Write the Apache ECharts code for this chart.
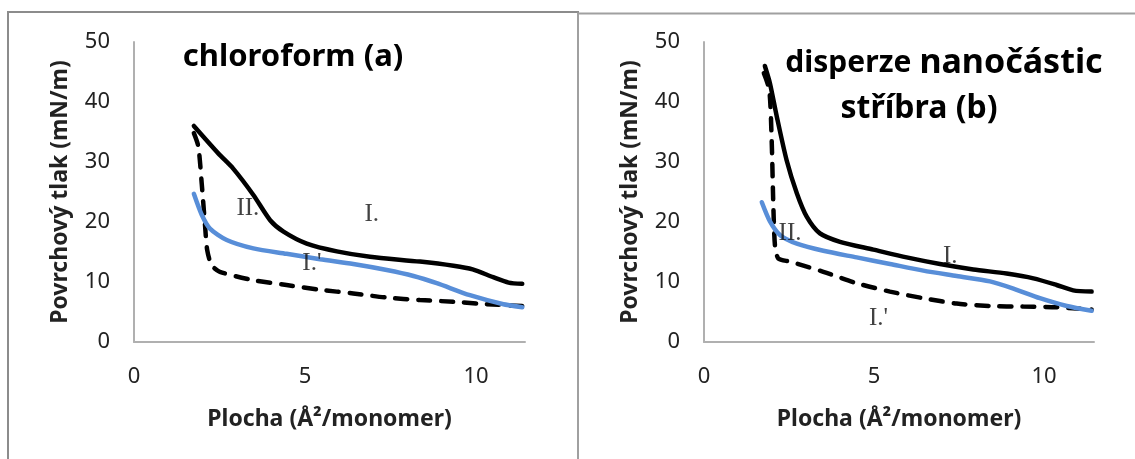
<!DOCTYPE html>
<html>
<head>
<meta charset="utf-8">
<script src="https://cdn.jsdelivr.net/npm/echarts@6/dist/echarts.min.js"></script>
<style>
html,body{margin:0;padding:0;background:#fff;}
#c{width:1135px;height:459px;}
</style>
</head>
<body>
<div id="c"></div>
<script>
// ---- data (x = Plocha, y = Povrchový tlak) ----
var xTicks = [0, 5, 10];
var yTicks = [0, 10, 20, 30, 40, 50];

var titleA = 'chloroform (a)';
var titleB1a = 'disperze';
var titleB1b = 'nanočástic';
var titleB2 = 'stříbra (b)';
var xName = 'Plocha (Å²/monomer)';
var yName = 'Povrchový tlak (mN/m)';

// panel (a) chloroform
var aSolid = [[1.75,36.0],[2.47,31.4],[2.9,28.9],[3.49,24.5],[3.98,20.3],[4.37,18.4],[5.05,16.4],[5.93,15.1],[6.9,14.2],[8.36,13.4],[9.34,12.7],[9.9,12.1],[10.5,10.8],[10.95,9.9],[11.35,9.7]];
var aBlue = [[1.75,24.7],[1.98,21.2],[2.22,18.9],[2.71,17.0],[3.49,15.6],[4.46,14.7],[5.44,13.8],[6.41,13.0],[7.39,12.0],[8.17,11.0],[8.85,9.8],[9.82,7.8],[10.8,6.3],[11.35,5.8]];
var aDashed = [[1.75,34.8],[1.88,32.6],[1.98,26.4],[2.08,19.2],[2.14,15.3],[2.27,12.8],[2.51,11.7],[3.49,10.3],[4.46,9.5],[5.44,8.7],[6.41,8.1],[7.39,7.4],[8.36,7.0],[9.34,6.7],[10.31,6.3],[11.35,6.0]];
var aLabels = [[3.33,22.3,'II.'],[6.95,21.2,'I.'],[5.2,13.1,"I.'"]];

// panel (b) disperze nanočástic stříbra
var bSolid = [[1.79,46.0],[1.94,43.1],[2.14,37.6],[2.43,30.3],[2.73,24.8],[3.02,20.9],[3.41,18.1],[4.0,16.7],[4.98,15.4],[5.96,14.1],[6.94,13.0],[7.92,12.1],[8.9,11.4],[9.69,10.6],[10.37,9.5],[10.86,8.6],[11.4,8.4]];
var bBlue = [[1.7,23.3],[1.94,20.1],[2.24,17.8],[2.73,16.4],[3.51,15.2],[4.49,14.1],[5.47,13.0],[6.45,11.9],[7.43,11.0],[8.41,10.1],[9.1,8.9],[9.88,7.3],[10.67,6.0],[11.4,5.2]];
var bDashed = [[1.76,44.8],[1.92,42.0],[1.99,33.7],[2.04,22.6],[2.09,15.9],[2.19,13.9],[2.53,13.4],[3.51,11.7],[4.49,9.8],[5.47,8.4],[6.45,7.3],[7.43,6.4],[8.41,6.0],[9.39,5.9],[10.37,5.8],[11.4,5.4]];
var bLabels = [[2.53,18.1,'II.'],[7.24,14.2,'I.'],[5.13,3.9,"I.'"]];

// ---- chart ----
var SANS = 'Noto Sans';
var SERIF = 'Liberation Serif';
var TXT = '#222';
var AXC = '#b0b0b0';

function xAxis(gi, max) {
  return {
    type: 'value', gridIndex: gi, min: 0, max: max, interval: 5,
    axisLine: {show: true, onZero: false, lineStyle: {color: AXC, width: 2}},
    axisTick: {show: false}, splitLine: {show: false},
    axisLabel: {
      color: TXT, fontFamily: SANS, fontSize: 22, margin: 24,
      showMaxLabel: false,
      formatter: function (v) { return xTicks.indexOf(v) >= 0 ? String(v) : ''; }
    },
    name: xName, nameLocation: 'middle', nameGap: 66,
    nameTextStyle: {color: TXT, fontFamily: SANS, fontSize: 23, fontWeight: 'bold'}
  };
}
function yAxis(gi) {
  return {
    type: 'value', gridIndex: gi, min: 0, max: 50, interval: 10,
    axisLine: {show: true, lineStyle: {color: AXC, width: 2}},
    axisTick: {show: false}, splitLine: {show: false},
    axisLabel: {
      color: TXT, fontFamily: SANS, fontSize: 22, margin: 24,
      formatter: function (v) { return yTicks.indexOf(v) >= 0 ? String(v) : ''; }
    },
    name: yName, nameLocation: 'middle', nameGap: 62,
    nameTextStyle: {color: TXT, fontFamily: SANS, fontSize: 23, fontWeight: 'bold'}
  };
}
function lineSeries(gi, data, color, dashed) {
  return {
    type: 'line', xAxisIndex: gi, yAxisIndex: gi, data: data,
    showSymbol: false, smooth: 0.25, silent: true,
    lineStyle: dashed
      ? {color: color, width: 4.5, type: [12, 11], cap: 'round'}
      : {color: color, width: 4.5, cap: 'round'}
  };
}
function labelSeries(gi, labels) {
  return {
    type: 'scatter', xAxisIndex: gi, yAxisIndex: gi, symbolSize: 0, silent: true, z: 5,
    data: labels.map(function (l) { return {value: [l[0], l[1]], name: l[2]}; }),
    label: {show: true, position: 'inside', formatter: '{b}', color: '#111',
      fontFamily: SERIF, fontSize: 25}
  };
}

var chart = echarts.init(document.getElementById('c'));
chart.setOption({
  animation: false,
  backgroundColor: '#fff',
  grid: [
    {left: 134, top: 42, width: 391, height: 300},
    {left: 704, top: 42, width: 390, height: 300}
  ],
  xAxis: [xAxis(0, 11.43), xAxis(1, 11.47)],
  yAxis: [yAxis(0), yAxis(1)],
  graphic: [
    {type: 'rect', shape: {x: 8, y: 12, width: 570, height: 470},
      style: {fill: 'none', stroke: '#8c8c8c', lineWidth: 2}, silent: true},
    {type: 'rect', shape: {x: 578, y: 13.5, width: 570, height: 470},
      style: {fill: 'none', stroke: '#a0a0a0', lineWidth: 2}, silent: true},
    {type: 'text', x: 293, y: 57, style: {text: titleA, fontFamily: SANS, fontSize: 31,
      fontWeight: 'bold', fill: '#000', textAlign: 'center', textVerticalAlign: 'middle'}},
    {type: 'text', x: 944, y: 63, style: {
      text: '{a|' + titleB1a + '} {b|' + titleB1b + '}',
      fontFamily: SANS, fontWeight: 'bold', fill: '#000', fontSize: 31,
      textAlign: 'center', textVerticalAlign: 'middle',
      rich: {
        a: {fontFamily: SANS, fontSize: 30, fontWeight: 'bold', fill: '#000'},
        b: {fontFamily: SANS, fontSize: 34, fontWeight: 'bold', fill: '#000'}
      }}},
    {type: 'text', x: 919, y: 109, style: {text: titleB2, fontFamily: SANS, fontSize: 32,
      fontWeight: 'bold', fill: '#000', textAlign: 'center', textVerticalAlign: 'middle'}}
  ],
  series: [
    lineSeries(0, aDashed, '#000', true),
    lineSeries(0, aSolid, '#000', false),
    lineSeries(0, aBlue, '#588ed8', false),
    labelSeries(0, aLabels),
    lineSeries(1, bDashed, '#000', true),
    lineSeries(1, bSolid, '#000', false),
    lineSeries(1, bBlue, '#588ed8', false),
    labelSeries(1, bLabels)
  ]
});
</script>
</body>
</html>
